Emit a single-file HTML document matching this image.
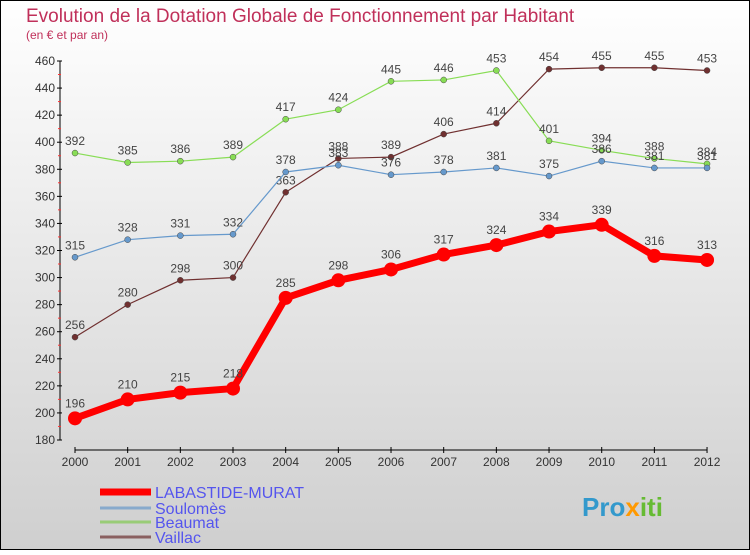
<!DOCTYPE html>
<html><head><meta charset="utf-8"><style>
body{margin:0;width:750px;height:550px;overflow:hidden;font-family:"Liberation Sans",sans-serif}
</style></head><body>
<svg id="c" width="750" height="550" xmlns="http://www.w3.org/2000/svg">
<defs><linearGradient id="bg" x1="0" y1="0" x2="0" y2="1"><stop offset="0" stop-color="#ffffff"/><stop offset="1" stop-color="#cfcfcf"/></linearGradient></defs>
<rect x="0.5" y="0.5" width="749" height="549" fill="url(#bg)" stroke="#000"/>
<text x="26" y="22" font-size="19" fill="#c0305a">Evolution de la Dotation Globale de Fonctionnement par Habitant</text>
<text x="26" y="39" font-size="12" fill="#c0305a">(en € et par an)</text>
<g id="axes"></g><g id="series"></g><g id="legend"></g>
<text x="582" y="516" font-size="26" font-weight="bold" fill="#3399cc">Pro<tspan fill="#ff9900">x</tspan><tspan fill="#66bb33">iti</tspan></text>
</svg>
<script>
const years=[2000,2001,2002,2003,2004,2005,2006,2007,2008,2009,2010,2011,2012];
const labastide=[196,210,215,218,285,298,306,317,324,334,339,316,313];
const soulomes=[315,328,331,332,378,383,376,378,381,375,386,381,381];
const beaumat=[392,385,386,389,417,424,445,446,453,401,394,388,384];
const vaillac=[256,280,298,300,363,388,389,406,414,454,455,455,453];
const yTicks=[180,200,220,240,260,280,300,320,340,360,380,400,420,440,460];
const seriesNames=["LABASTIDE-MURAT","Soulomès","Beaumat","Vaillac"];
const NS="http://www.w3.org/2000/svg";
const xs=i=>75+i*52.67;
const ys=v=>440-(v-180)*(379/280);
function mk(t,a,p){const e=document.createElementNS(NS,t);for(const k in a)e.setAttribute(k,a[k]);p.appendChild(e);return e;}
const ax=document.getElementById('axes');
let l=mk('line',{x1:60,y1:ys(460),x2:60,y2:ys(180),stroke:'#000'},ax);


l=mk('line',{x1:75,y1:450,x2:xs(12),y2:450,stroke:'#000'},ax);


yTicks.forEach((v,k)=>{const y=ys(v);mk('line',{x1:57,y1:y,x2:62,y2:y,stroke:'#000'},ax);
if(k>0)mk('line',{x1:58,y1:y+13.5,x2:61,y2:y+13.5,stroke:'#f33'},ax);
const t=mk('text',{x:55,y:y+4,'font-size':12,'text-anchor':'end',fill:'#333'},ax);t.textContent=v;

});
years.forEach((yr,i)=>{const x=xs(i);mk('line',{x1:x,y1:447,x2:x,y2:453,stroke:'#000'},ax);
const t=mk('text',{x:x,y:466,'font-size':12,'text-anchor':'middle',fill:'#333'},ax);t.textContent=yr;

});
const sg=document.getElementById('series');
const defs=[[vaillac,'#703030',1.2,3,'vaillac'],[beaumat,'#88dd55',1.2,3,'beaumat'],[soulomes,'#6699cc',1.2,3,'soulomes'],[labastide,'#ff0000',7,7,'labastide-murat']];
defs.forEach(([d,c,w,r,n])=>{
const p=mk('polyline',{points:d.map((v,i)=>xs(i)+','+ys(v)).join(' '),fill:'none',stroke:c,'stroke-width':w},sg);


d.forEach((v,i)=>{const ci=mk('circle',{cx:xs(i),cy:ys(v),r:r,fill:c,stroke:r>5?'none':'#444','stroke-width':0.5},sg);


const t=mk('text',{x:xs(i),y:ys(v)-(r>5?11:8),'font-size':12,'text-anchor':'middle',fill:'#444'},sg);t.textContent=v;

});});
const lg=document.getElementById('legend');
const lc=['#ff0000','#88aacc','#99cc77','#8a6060'],lw=[7,3,3,3],ly=[492,508,522,537];
seriesNames.forEach((n,i)=>{
const li=mk('line',{x1:100,y1:ly[i],x2:151,y2:ly[i],stroke:lc[i],'stroke-width':lw[i]},lg);


const t=mk('text',{x:155,y:ly[i]+6,'font-size':16,fill:'#5555ee'},lg);t.textContent=n;

});
</script>
</body></html>
